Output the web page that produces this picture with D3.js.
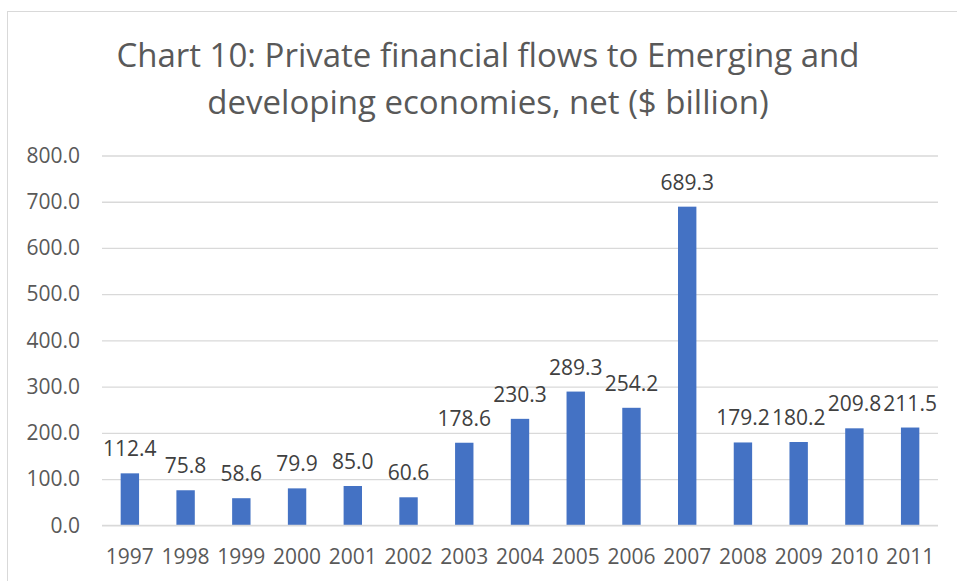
<!DOCTYPE html>
<html>
<head>
<meta charset="utf-8">
<script src="https://cdn.jsdelivr.net/npm/d3@7"></script>
<style>
  body { margin: 0; background: #fff; }
  svg { display: block; }
</style>
</head>
<body>
<svg id="chart" width="957" height="581"></svg>
<script>
// chart data
const years = ['1997', '1998', '1999', '2000', '2001', '2002', '2003', '2004',
  '2005', '2006', '2007', '2008', '2009', '2010', '2011']
const flows = [112.4, 75.8, 58.6, 79.9, 85.0, 60.6, 178.6, 230.3,
  289.3, 254.2, 689.3, 179.2, 180.2, 209.8, 211.5]
const yTicks = [0, 100, 200, 300, 400, 500, 600, 700, 800]
const titleLines = ['Chart 10: Private financial flows to Emerging and',
  'developing economies, net ($ billion)']

const svg = d3.select('#chart')
const font = '"Open Sans", sans-serif'
const plotLeft = 102, plotRight = 938, plotTop = 155.5, plotBottom = 525.3

// outer chart border (right and bottom edges are cut off in the picture)
svg.append('rect')
  .attr('x', 7.5).attr('y', 11.5)
  .attr('width', 980).attr('height', 600)
  .attr('fill', 'none')
  .attr('stroke', '#d9d9d9')

svg.selectAll('text.title')
  .data(titleLines)
  .enter()
  .append('text')
  .attr('class', 'title')
  .attr('x', 488)
  .attr('y', (d, i) => 67 + i * 47)
  .attr('text-anchor', 'middle')
  .style('font-family', font)
  .style('font-size', '33px')
  .style('fill', '#595959')
  .text(d => d)

const x = d3.scaleBand()
  .domain(years)
  .range([plotLeft, plotRight])
  .paddingInner(0.67)
  .paddingOuter(0.335)

const y = d3.scaleLinear()
  .domain([0, 800])
  .range([plotBottom, plotTop])

// gridlines + y labels
const yAxis = d3.axisLeft(y)
  .tickValues(yTicks)
  .tickSize(-(plotRight - plotLeft))
  .tickPadding(22)
  .tickFormat(d3.format('.1f'))

const gy = svg.append('g')
  .attr('transform', `translate(${plotLeft},0)`)
  .call(yAxis)
gy.select('.domain').remove()
gy.selectAll('line').attr('stroke', '#d9d9d9').attr('stroke-width', 1.3)
gy.selectAll('text')
  .style('font-family', font)
  .style('font-size', '21px')
  .style('fill', '#595959')

svg.selectAll('rect.bar')
  .data(flows)
  .enter()
  .append('rect')
  .attr('class', 'bar')
  .attr('x', (d, i) => x(years[i]))
  .attr('y', d => y(d))
  .attr('width', x.bandwidth())
  .attr('height', d => y(0) - y(d))
  .style('fill', '#4472c4')

// redraw the zero line over the bars
svg.append('line')
  .attr('x1', plotLeft).attr('x2', plotRight)
  .attr('y1', y(0)).attr('y2', y(0))
  .attr('stroke', '#d9d9d9').attr('stroke-width', 1.3)

svg.selectAll('text.value')
  .data(flows)
  .enter()
  .append('text')
  .attr('class', 'value')
  .attr('x', (d, i) => x(years[i]) + x.bandwidth() / 2)
  .attr('y', d => y(d) - 17)
  .attr('text-anchor', 'middle')
  .style('font-family', font)
  .style('font-size', '21px')
  .style('fill', '#404040')
  .text(d => d.toFixed(1))

// x labels
const xAxis = d3.axisBottom(x).tickSize(0).tickPadding(24)
const gx = svg.append('g')
  .attr('transform', `translate(0,${plotBottom})`)
  .call(xAxis)
gx.select('.domain').remove()
gx.selectAll('text')
  .style('font-family', font)
  .style('font-size', '21px')
  .style('fill', '#595959')
</script>
</body>
</html>
